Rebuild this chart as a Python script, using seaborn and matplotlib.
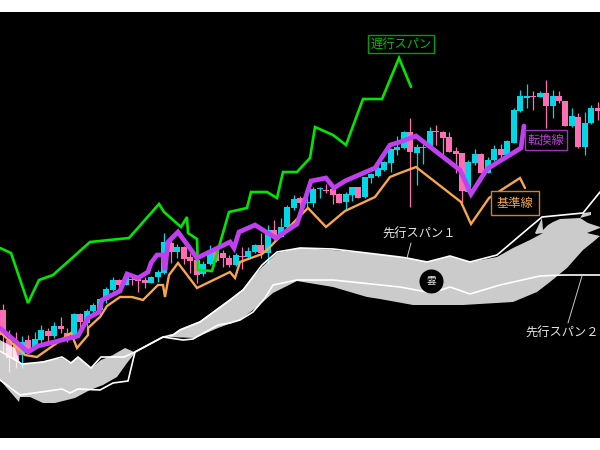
import numpy as np
import pandas as pd
import matplotlib
matplotlib.use('Agg')
import matplotlib.pyplot as plt
import seaborn as sns

# candle values (top of body, bottom of body, high, low)
body_top = [310, 340, 343, 342, 340, 339, 330, 331, 326, 326, 333, 314, 314, 311, 305, 299,
            289, 280, 280, 277, 279, 279, 280, 277, 272, 242, 243, 247, 247, 257, 260,
            264, 253, 248, 253, 258, 255, 256, 251, 245, 245, 230, 230, 227, 207, 199,
            198, 202, 189, 188, 190, 189, 194, 194, 187, 187, 177, 174, 168, 162, 149,
            147, 132, 132, 147, 147, 131, 131, 132, 137, 151, 153, 162, 154, 154, 160,
            149, 149, 141, 110, 96, 96, 96, 93, 93, 96, 96, 101, 116, 117, 123, 108, 108]
body_bot = [335, 358, 360, 355, 349, 347, 340, 336, 336, 329, 337, 337, 322, 323, 311, 310,
            300, 290, 285, 285, 280, 281, 283, 283, 277, 273, 252, 252, 259, 261, 275,
            274, 264, 261, 258, 265, 265, 257, 257, 252, 253, 253, 236, 237, 227, 208,
            203, 203, 203, 189, 191, 195, 203, 202, 195, 198, 197, 178, 176, 170, 163,
            150, 148, 152, 153, 148, 146, 132, 138, 152, 154, 191, 192, 163, 173, 173,
            160, 155, 155, 143, 111, 98, 97, 97, 106, 106, 101, 126, 126, 147, 147, 123, 111]
wick_high = [304, 330, 332, 336, 335, 332, 325, 328, 322, 317, 328, 313, 313, 309, 303, 298,
             287, 277, 279, 273, 277, 277, 277, 276, 270, 233, 238, 244, 246, 253, 255,
             261, 245, 248, 250, 255, 253, 247, 247, 244, 233, 225, 220, 218, 205, 195,
             196, 192, 187, 187, 184, 185, 193, 192, 187, 187, 177, 173, 166, 161, 148,
             136, 131, 118, 144, 144, 127, 125, 131, 132, 147, 153, 160, 149, 153, 157,
             145, 144, 140, 108, 90, 84, 91, 91, 80, 90, 91, 101, 108, 113, 112, 105, 102]
wick_low = [353, 372, 368, 368, 353, 348, 345, 344, 338, 333, 342, 338, 332, 327, 316, 316,
            303, 291, 292, 285, 285, 292, 288, 283, 282, 274, 263, 258, 264, 273, 283,
            276, 265, 262, 267, 267, 266, 269, 258, 253, 258, 264, 240, 237, 228, 210,
            208, 207, 207, 198, 193, 204, 203, 210, 201, 198, 198, 183, 177, 171, 172,
            155, 149, 207, 185, 164, 147, 145, 155, 152, 173, 203, 193, 165, 173, 173,
            161, 160, 156, 143, 112, 108, 110, 97, 128, 118, 103, 126, 127, 148, 155, 124, 120]
# 1 = cyan (rising), 0 = pink (falling)
rising = [0, 0, 0, 1, 0, 1, 1, 0, 1, 0, 0, 1, 0, 1, 1, 1,
          1, 1, 0, 1, 0, 0, 0, 1, 1, 1, 0, 1, 0, 0, 0,
          1, 1, 0, 0, 0, 1, 0, 1, 1, 0, 1, 0, 1, 1, 1,
          0, 1, 1, 1, 0, 0, 0, 1, 1, 0, 1, 1, 1, 1, 1,
          1, 1, 0, 1, 1, 1, 0, 0, 0, 0, 0, 1, 1, 0, 1,
          1, 0, 1, 1, 1, 1, 0, 1, 0, 1, 0, 0, 1, 0, 1, 1, 0]

chikou_x = [0, 11, 28, 39, 53, 90, 129, 159, 164, 181, 187, 188, 197, 198, 212, 229, 247, 251, 267,
            277, 283, 297, 310, 315, 333, 346, 363, 382, 399, 411]
chikou_y = [248, 253, 303, 280, 275, 242, 238, 204, 212, 227, 217, 233, 239, 270, 271, 212, 208, 192, 192,
            198, 172, 172, 158, 127, 135, 145, 99, 99, 58, 87]

tenkan_x = [0, 28, 38, 78, 88, 99, 102, 120, 127, 138, 148, 151, 157, 163, 165, 168, 178, 197, 230, 234,
            239, 255, 276, 297, 311, 326, 334, 345, 375, 390, 400, 416, 460, 471, 487, 521, 524]
tenkan_y = [328, 352, 346, 336, 318, 312, 300, 291, 274, 278, 272, 263, 255, 255, 270, 242, 232, 258, 242, 248,
            232, 225, 238, 224, 181, 178, 188, 181, 168, 145, 142, 136, 170, 194, 169, 148, 126]

kijun_x = [0, 25, 37, 71, 77, 88, 88, 100, 107, 120, 132, 143, 158, 163, 165, 169, 178, 197, 230, 235,
           240, 262, 270, 297, 308, 326, 345, 375, 390, 400, 416, 461, 471, 489, 520, 525]
kijun_y = [332, 355, 357, 333, 348, 335, 328, 317, 306, 297, 297, 300, 285, 285, 297, 275, 263, 288, 272, 278,
           262, 254, 247, 219, 208, 227, 211, 197, 177, 173, 167, 202, 224, 198, 178, 188]

span1_x = [0, 22, 43, 62, 71, 78, 91, 101, 124, 135, 163, 173, 180, 200, 230, 243, 262, 277, 300, 333, 367, 400,
           407, 427, 450, 470, 497, 530, 542, 583, 600]
span1_y = [351, 364, 362, 357, 363, 357, 368, 357, 357, 352, 337, 335, 330, 322, 300, 290, 265, 252, 248, 249, 253, 257,
           258, 262, 256, 262, 255, 227, 217, 213, 192]
span2_x = [0, 20, 62, 70, 78, 100, 113, 128, 135, 163, 183, 193, 218, 230, 240, 253, 265, 273, 297, 333, 400, 432,
           450, 470, 500, 540, 563, 600]
span2_y = [380, 395, 389, 393, 389, 390, 383, 381, 352, 337, 340, 339, 325, 323, 320, 312, 298, 285, 280, 280, 287, 293,
           287, 294, 285, 276, 275, 275]

cloud_left_x = [0, 15, 20, 33, 62, 70, 78, 91, 101, 113, 125, 132, 135, 127, 117, 103, 90, 75, 55, 43, 30, 20, 19, 0]
cloud_left_y = [340, 348, 363, 363, 358, 363, 357, 368, 360, 355, 348, 351, 353, 363, 377, 385, 390, 398, 403, 403, 397, 397, 402, 380]

cloud_main_x = [168, 173, 180, 200, 230, 243, 262, 277, 300, 333, 367, 400, 407, 427, 450, 470, 497, 513, 530, 543,
                536, 535, 542, 543, 548, 553, 560, 580, 583, 591, 591, 580, 588, 600, 600, 587, 600, 593, 583, 567,
                550, 537, 513, 463, 413, 380, 367, 333, 297, 273, 257, 240, 218, 195, 170]
cloud_main_y = [335, 334, 329, 321, 299, 289, 267, 253, 248, 250, 253, 257, 258, 262, 256, 262, 257, 248, 240, 233,
                234, 233, 218, 230, 225, 222, 219, 218, 213, 212, 215, 218, 223, 227, 228, 233, 236, 242, 250, 268,
                282, 292, 302, 305, 305, 299, 297, 287, 281, 293, 307, 320, 328, 338, 337]

CYAN = '#00d8e8'
PINK = '#ff6eb4'
PURPLE = '#c040f0'
ORANGE = '#f8a64c'
GREEN = '#00e600'

sns.set_style('dark')
plt.rcParams['font.family'] = ['Noto Sans CJK JP', 'DejaVu Sans']

fig = plt.figure(figsize=(6, 4.5), dpi=100, facecolor='white')
ax = fig.add_axes([0, 12 / 450, 1, 426 / 450], facecolor='black')

# candles
candle_x = 2.6 + 6.47 * np.arange(len(rising))
df = pd.DataFrame({'x': candle_x, 'top': body_top, 'bot': body_bot, 'high': wick_high,
                   'low': wick_low, 'rising': rising})
df['color'] = np.where(df['rising'] == 1, CYAN, PINK)
ax.vlines(df['x'], df['high'], df['low'], colors=df['color'], lw=0.9, zorder=2)
ax.bar(df['x'], df['bot'] - df['top'], bottom=df['top'], width=6.0, color=df['color'], lw=0, zorder=3)

# cloud sits over the candles, they show through faintly
ax.fill(cloud_left_x, cloud_left_y, color='white', alpha=0.8, lw=0, zorder=4)
ax.fill(cloud_main_x, cloud_main_y, color='white', alpha=0.8, lw=0, zorder=4)

# ichimoku lines
def draw_line(xs, ys, color, lw, z):
    sns.lineplot(x=xs, y=ys, sort=False, estimator=None, color=color, lw=lw, zorder=z, ax=ax,
                 solid_joinstyle='miter', legend=False)

draw_line(span2_x, span2_y, 'white', 1.2, 5)
draw_line(span1_x, span1_y, 'white', 1.2, 5)
draw_line(chikou_x, chikou_y, GREEN, 1.9, 6)
draw_line(kijun_x, kijun_y, ORANGE, 1.7, 6)
draw_line(tenkan_x, tenkan_y, PURPLE, 3.4, 7)

# labels
ax.text(401, 44, '遅行スパン', color='#00c000', fontsize=8.8, ha='center', va='center', zorder=9,
        bbox=dict(fc='black', ec='#00a000', lw=1, boxstyle='square,pad=0.2'))
ax.text(546, 140, '転換線', color='#c040e0', fontsize=8.8, ha='center', va='center', zorder=9,
        bbox=dict(fc='black', ec='#a030c0', lw=1, boxstyle='square,pad=0.25'))
ax.text(515, 203, '基準線', color='#f8a64c', fontsize=8.8, ha='center', va='center', zorder=9,
        bbox=dict(fc='black', ec='#d08030', lw=1, boxstyle='square,pad=0.45'))
ax.text(419, 234, '先行スパン１', color='#e8e8e8', fontsize=8.8, ha='center', va='center', zorder=9)
ax.text(562, 333, '先行スパン２', color='#e8e8e8', fontsize=8.8, ha='center', va='center', zorder=9)
ax.plot([411, 407], [243, 258], color='#c8c8c8', lw=0.7, zorder=8)
ax.plot([582, 568], [276, 323], color='#c8c8c8', lw=0.7, zorder=8)

ax.scatter([431], [281], s=300, color='black', lw=0, zorder=8)
ax.text(431, 281, '雲', color='#e8e8e8', fontsize=7, ha='center', va='center', zorder=9)

ax.set_xlim(0, 600)
ax.set_ylim(438, 12)
ax.set_xticks([])
ax.set_yticks([])
ax.set(xlabel='', ylabel='')
for spine in ax.spines.values():
    spine.set_visible(False)

fig.savefig('out.png', dpi=100, facecolor='white')
